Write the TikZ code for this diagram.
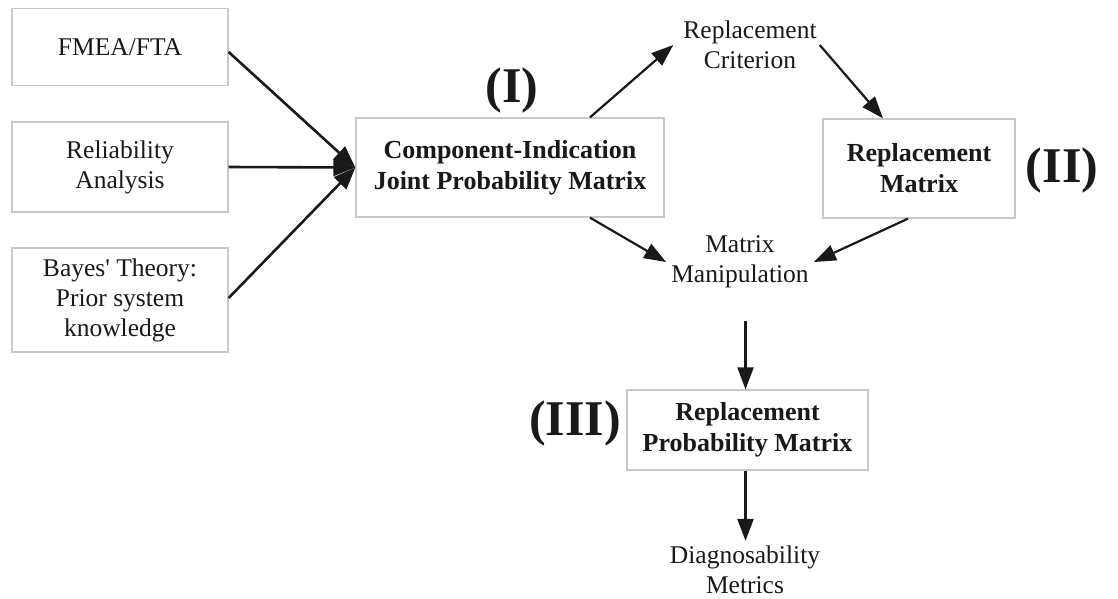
\documentclass[tikz,border=0pt]{standalone}
\usepackage{fontspec}
\setmainfont{Liberation Serif}
\usetikzlibrary{arrows.meta,calc}
\definecolor{boxgray}{RGB}{200,200,200}
\definecolor{ink}{RGB}{25,25,25}
\tikzset{
  box/.style={draw=boxgray, line width=1.3pt, inner sep=0pt, align=center, text=ink},
  txt/.style={align=center, inner sep=8pt, text=ink},
  reg/.style={font=\fontsize{25.5}{30}\selectfont},
  bld/.style={font=\fontsize{26}{31}\selectfont\bfseries},
  big/.style={font=\fontsize{50}{52}\selectfont\bfseries, text=ink},
  arr/.style={draw=ink, line width=2.2pt, -{Triangle[length=22pt,width=16pt]}},
  arrb/.style={draw=ink, line width=2.6pt, -{Triangle[length=22pt,width=17pt]}}
}
\begin{document}
\begin{tikzpicture}[x=1pt,y=-1pt]
\useasboundingbox (0,0) rectangle (1118,598);
\fill[white] (0,0) rectangle (1118,598);
% left input boxes
\node[box,reg,minimum width=216pt,minimum height=77pt] (fmea) at (120,47) {FMEA/FTA};
\node[box,reg,minimum width=216pt,minimum height=90pt] (rel) at (120,167) {Reliability\\Analysis};
\node[box,reg,minimum width=216pt,minimum height=104pt] (bay) at (120,300) {Bayes\textquotesingle{} Theory:\\Prior system\\knowledge};
% main boxes
\node[box,bld,minimum width=308pt,minimum height=99pt] (comp) at (510,167.5) {Component-Indication\\Joint Probability Matrix};
\node[box,bld,minimum width=192pt,minimum height=99pt] (rmat) at (919,168.5) {Replacement\\Matrix};
\node[box,bld,minimum width=241pt,minimum height=80pt] (rpm) at (747.5,430) {Replacement\\Probability Matrix};
% plain text nodes
\node[txt,reg] (crit) at (750,45) {Replacement\\Criterion};
\node[txt,reg,inner sep=5pt] (mm) at (740,262) {Matrix\\Manipulation};
\node[txt,reg,inner sep=5pt] (diag) at (745,570) {Diagnosability\\Metrics};
% roman numeral labels
\node[big] (l1) at (512,90) {(I)};
\node[big] (l2) at (1062,170) {(II)};
\node[big] (l3) at (575,423) {(III)};
% connectors
\draw[arrb] ([yshift=-5pt]fmea.east) -- (comp.west);
\draw[arrb] (rel.east) -- (comp.west);
\draw[arrb] ([yshift=2pt]bay.east) -- (comp.west);
\draw[arr] ([xshift=80pt]comp.north) -- ([xshift=-2pt]crit.west);
\draw[arr] ([xshift=-5pt]crit.east) -- ([xshift=-36pt]rmat.north);
\draw[arr] ([xshift=80pt]comp.south) -- (mm.west);
\draw[arr] ([xshift=-11pt]rmat.south) -- (mm.east);
\draw[arr] ([xshift=-2pt,yshift=-28pt]rpm.north |- mm.south) -- ([xshift=-2pt]rpm.north);
\draw[arr] ([xshift=-2pt]rpm.south) -- ([xshift=-2pt]rpm.south |- diag.north);
\end{tikzpicture}
\end{document}
